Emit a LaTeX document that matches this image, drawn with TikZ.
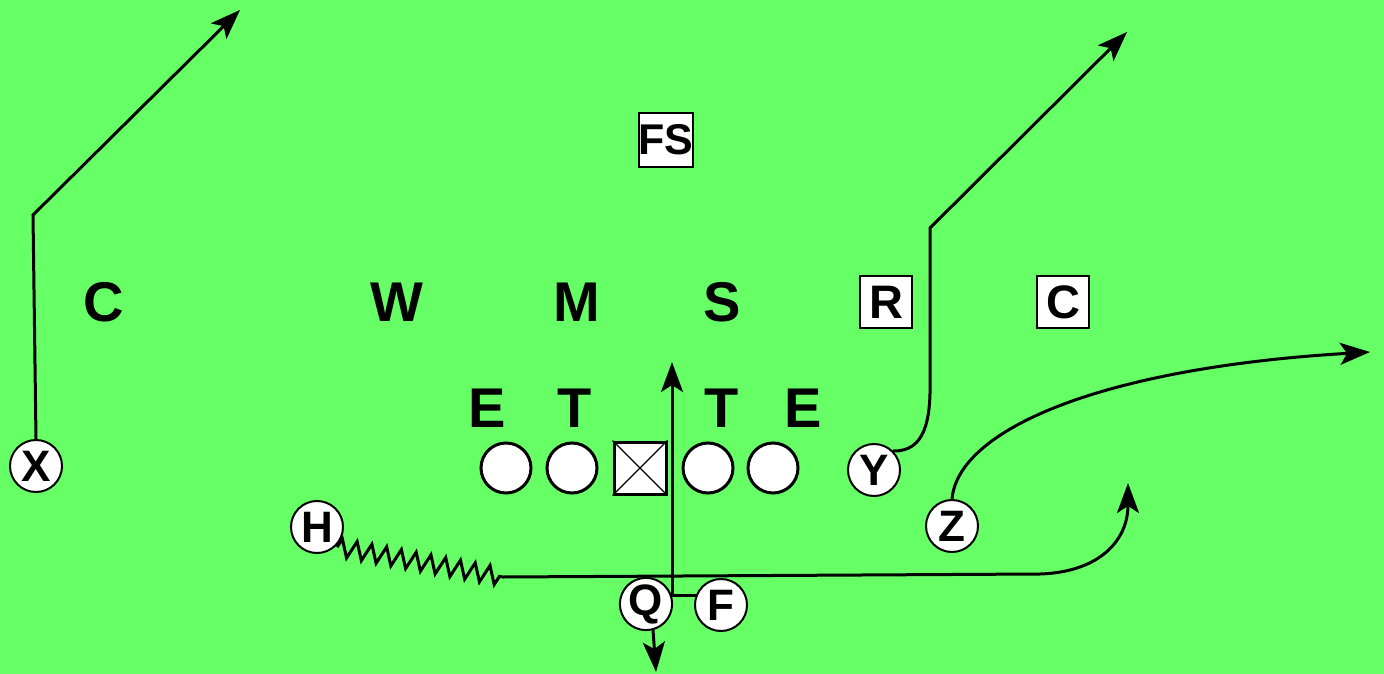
\documentclass[tikz,border=0pt]{standalone}
\usepackage{fontspec}
\setmainfont{Liberation Sans}
\usetikzlibrary{arrows.meta, positioning, calc, decorations.pathmorphing}
\definecolor{field}{RGB}{102,255,102}

\begin{document}
\begin{tikzpicture}[x=1pt, y=-1pt,
    player/.style={circle, draw, fill=white, line width=2pt, minimum size=52pt, inner sep=0pt,
      font=\fontsize{44}{46}\selectfont\bfseries},
    lineman/.style={circle, draw, fill=white, line width=3pt, minimum size=50pt, inner sep=0pt},
    defender/.style={font=\fontsize{56}{60}\selectfont\bfseries, inner sep=0pt},
    boxed/.style={draw, fill=white, line width=2pt, minimum size=52pt, inner sep=0pt,
      font=\fontsize{47}{50}\selectfont\bfseries},
    route/.style={line width=3pt, -{Stealth[length=30pt, width=22pt, inset=7pt]}},
    plain/.style={line width=3pt}]
    \useasboundingbox (0,0) rectangle (1384,674);
    \fill[field] (0,0) rectangle (1384,674);
    % Defense
    \node[defender] (cl) at (104,302) {C};
    \node[defender] (w) at (397,302) {W};
    \node[defender] (m) at (577,302) {M};
    \node[defender] (s) at (722,302) {S};
    \node[boxed] (r) at (886,302) {R};
    \node[boxed] (cr) at (1063,302) {C};
    \node[boxed, minimum size=54pt, font=\fontsize{43}{46}\selectfont\bfseries] (fs) at (666,140) {FS};
    \node[defender] (el) at (487,408) {E};
    \node[defender] (tl) at (575,408) {T};
    \node[defender] (tr) at (722,408) {T};
    \node[defender] (er) at (803,408) {E};
    % Offensive line
    \node[lineman] (lt) at (506,468) {};
    \node[lineman] (lg) at (572,468) {};
    \node[draw, fill=white, line width=3pt, minimum size=52pt, inner sep=0pt] (ctr) at (640,468) {};
    \draw[line width=1.2pt] (ctr.north west) -- (ctr.south east) (ctr.north east) -- (ctr.south west);
    \node[lineman] (rg) at (708,468) {};
    \node[lineman] (rt) at (773,468) {};
    % Skill players
    \node[player] (x) at (36,466) {X};
    \node[player] (y) at (874,470) {Y};
    \node[player] (z) at (952,526) {Z};
    \node[player] (h) at (317,527) {H};
    \node[player] (q) at (646,604) {Q};
    \node[player] (f) at (721,605) {F};
    % Route ends
    \coordinate (xbreak) at (33,215);
    \coordinate (xend) at (240,10);
    \coordinate (ybreak) at (930,228);
    \coordinate (yend) at (1127,32);
    \coordinate (zend) at (1370,352);
    \coordinate (hmesh) at (503,577);
    \coordinate (hturn) at (1040,574);
    \coordinate (hend) at (1128,483);
    \coordinate (fend) at (672,362);
    \coordinate (qend) at (656,672);
    % Routes
    \draw[route] (x.north) -- (xbreak) -- (xend);
    \draw[route] (y.north east) .. controls (925,452) and (931,420) .. (930,378) -- (ybreak) -- (yend);
    \draw[route] (z.north) .. controls (958,430) and (1100,368) .. (zend);
    \draw[plain, decorate, decoration={zigzag, amplitude=9pt, segment length=15pt}]
      ($(h.south east)+(1,1)$) -- (hmesh);
    \draw[route] (hmesh) -- (hturn) .. controls (1100,572) and (1128,540) .. (hend);
    \draw[route] (f.160) -- (f.160 -| fend) -- (fend);
    \draw[route] (q.-75) -- (qend);
\end{tikzpicture}
\end{document}
